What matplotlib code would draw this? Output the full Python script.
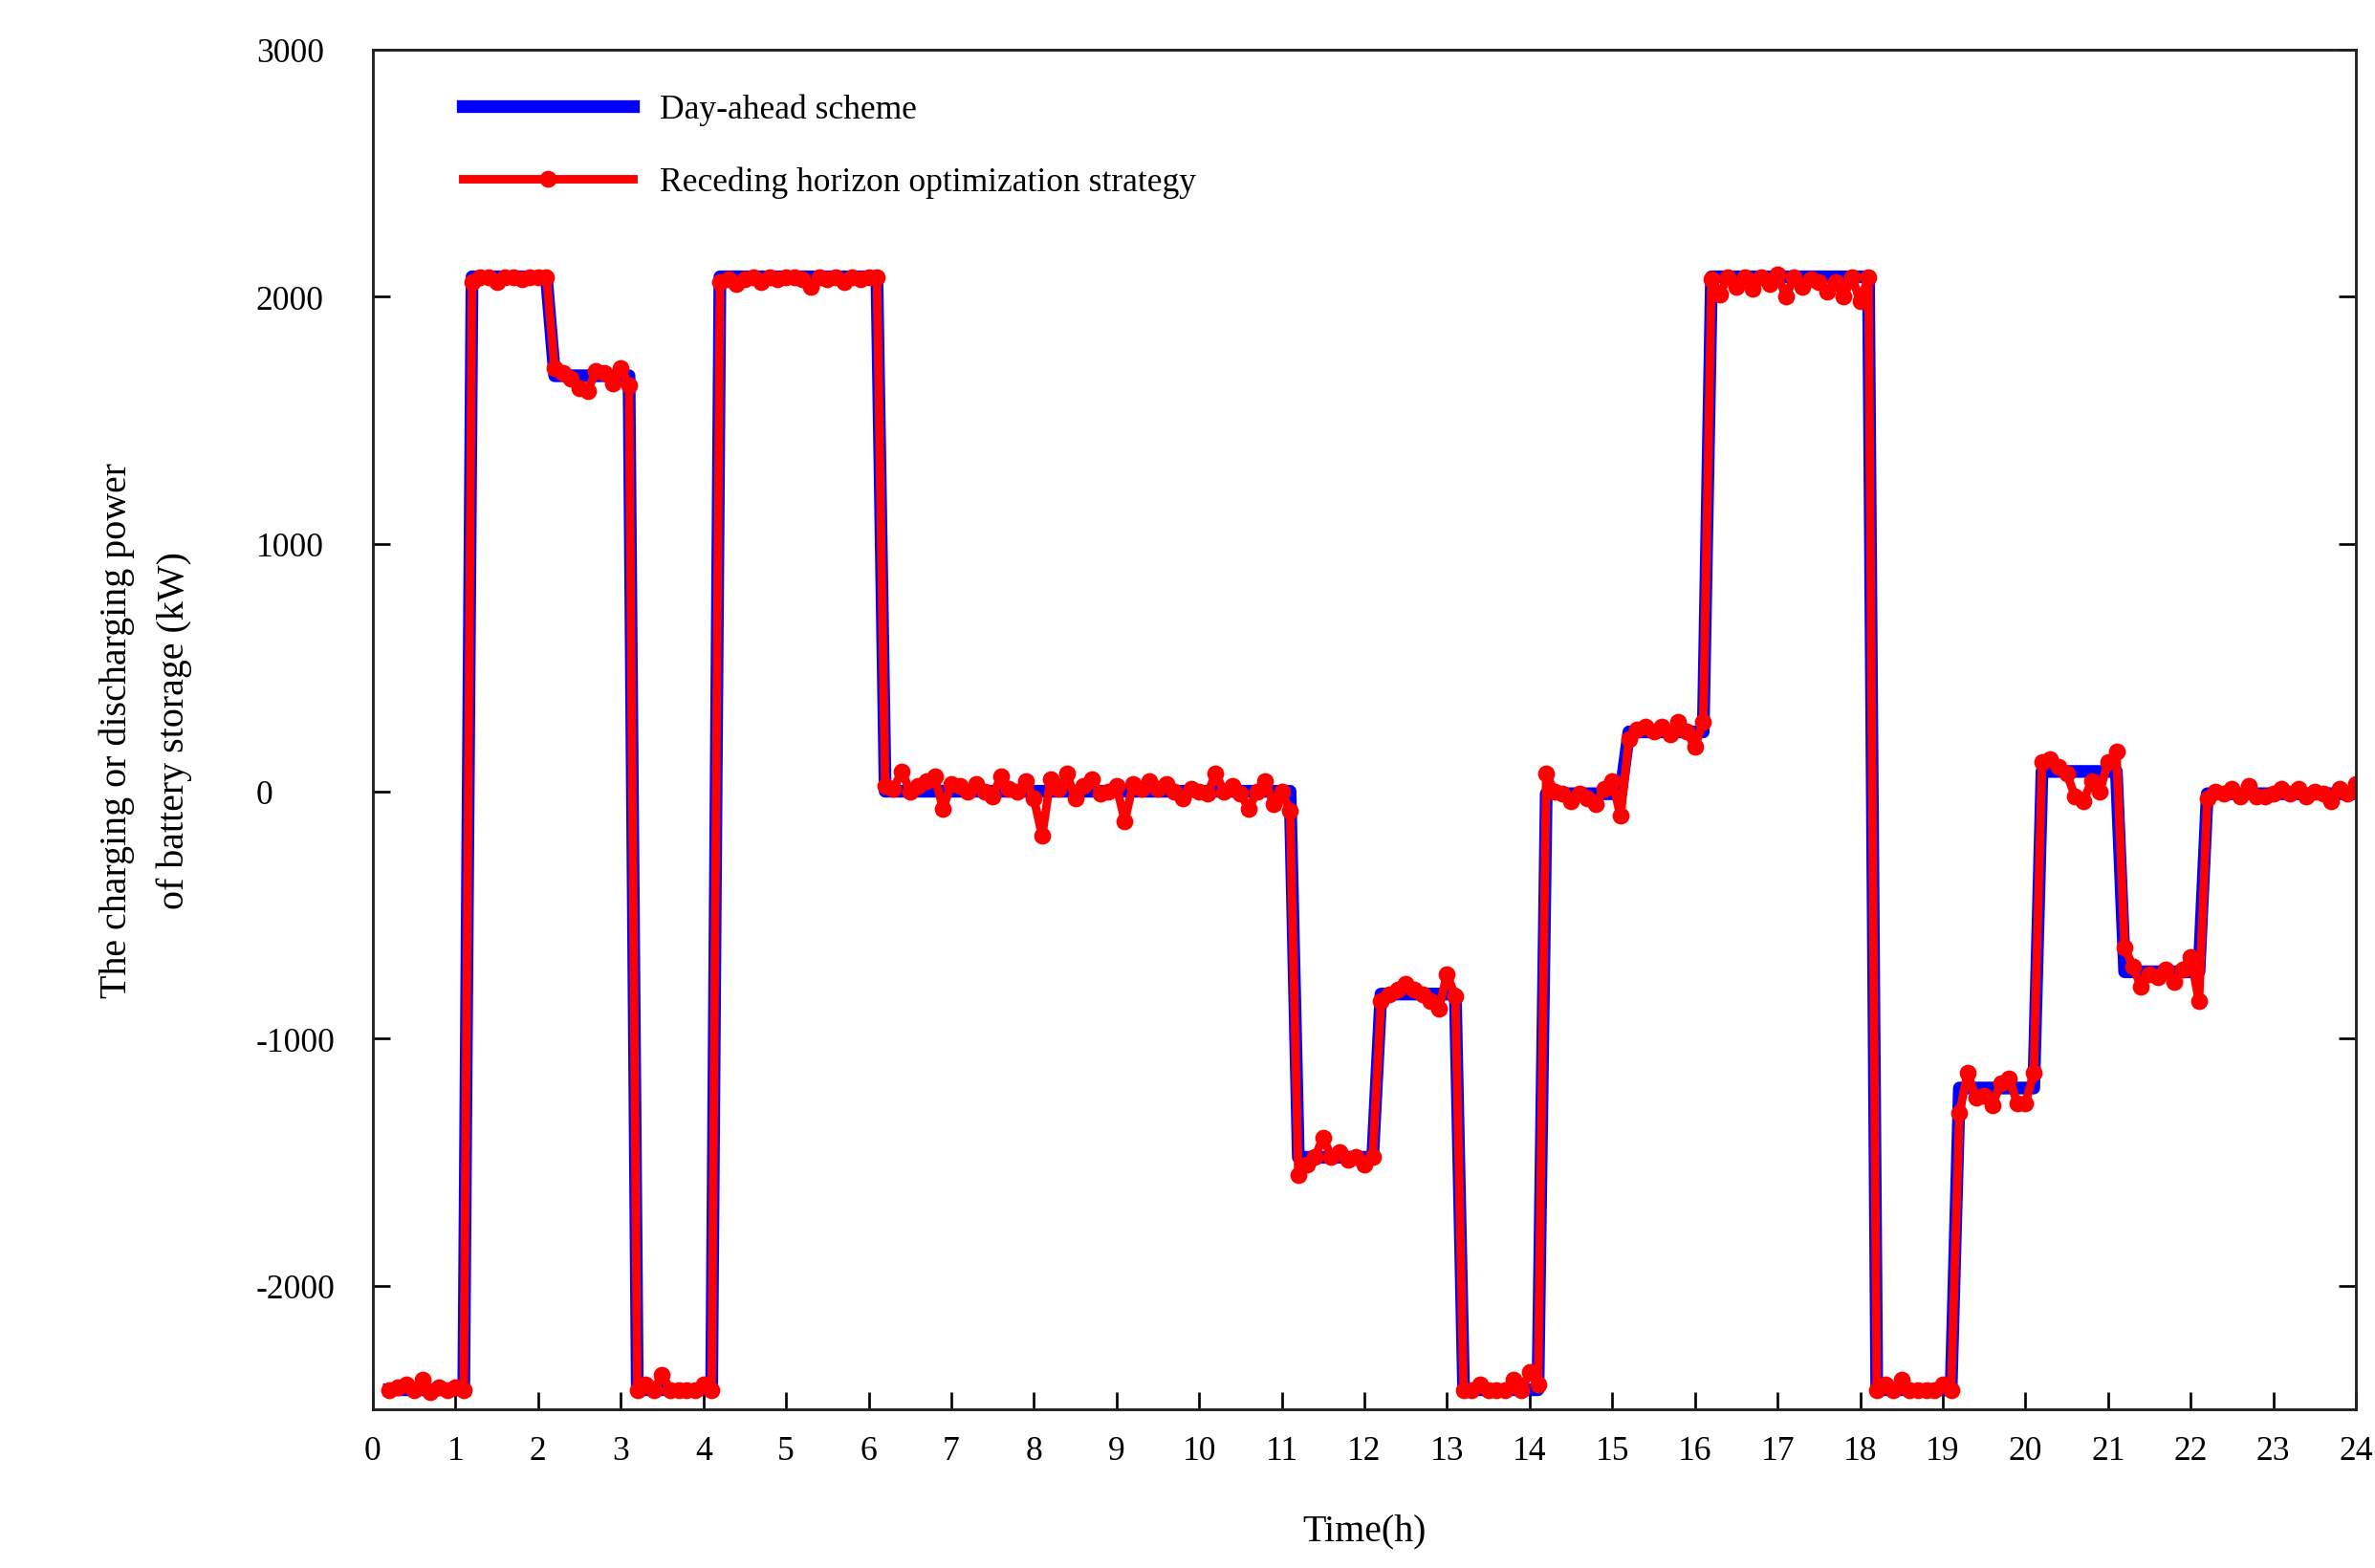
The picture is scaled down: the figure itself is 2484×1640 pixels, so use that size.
import numpy as np
import matplotlib
matplotlib.use("Agg")
import matplotlib.pyplot as plt

plt.rcParams['font.family'] = ['Liberation Serif', 'DejaVu Serif']
plt.rcParams['axes.unicode_minus'] = False

# hourly level of the day-ahead scheme (kW), hour 0..23
levels = [-2420, 2080, 1680, -2420, 2080, 2080, 0, 0, 0, 0,
          0, -1480, -820, -2420, -10, 240, 2080, 2080, -2420, -1200,
          80, -730, -10, -10]

# deviations of the receding horizon result, 10 samples per hour (6 min)
dev = [
    [0, 10, 20, 0, 40, -10, 10, 0, 10, 0],
    [-20, 0, 0, -20, 0, 0, -10, 0, 0, 0],
    [30, 10, -10, -50, -60, 20, 10, -30, 30, -40],
    [0, 20, 0, 60, 0, 0, 0, 0, 20, 0],
    [-20, -10, -30, -10, 0, -20, 0, -10, 0, 0],
    [-10, -40, 0, -10, 0, -20, 0, -10, 0, 0],
    [20, 10, 80, 0, 20, 40, 60, -70, 30, 20],
    [0, 30, 0, -20, 60, 10, 0, 40, -30, -180],
    [50, 10, 70, -30, 20, 50, -10, 0, 20, -120],
    [30, 10, 40, 10, 30, 0, -30, 10, 0, -10],
    [70, 0, 20, -10, -70, 0, 40, -50, 0, -80],
    [-70, -30, 0, 80, 0, 20, -10, 0, -30, 0],
    [-30, 0, 20, 40, 20, 0, -30, -60, 80, -10],
    [0, 0, 20, 0, 0, 0, 40, 0, 70, 20],
    [80, 10, 0, -30, 0, -20, -40, 20, 50, -90],
    [-30, 10, 20, 0, 20, -10, 40, 0, -60, 40],
    [-10, -70, 0, -40, 0, -50, 0, -30, 10, -80],
    [0, -40, -10, -20, -60, -20, -80, 0, -100, 0],
    [0, 20, 0, 40, 0, 0, 0, 0, 20, 0],
    [-100, 60, -40, -30, -70, 20, 40, -60, -60, 60],
    [40, 50, 20, -10, -100, -120, -40, -80, 40, 80],
    [100, 20, -60, -10, -20, 10, -40, 10, 60, -120],
    [-20, 10, 0, 20, -10, 30, -10, -10, 0, 20],
    [0, 20, -10, 10, 0, -30, 20, 0, 40, -40],
]

hours = np.arange(24)
t = np.array([h + 0.1 * k + 0.1 for h in hours for k in range(1, 11)])
day_ahead = np.repeat(levels, 10)
receding = day_ahead + np.array(dev).ravel()
keep = t <= 24.0

fig = plt.figure(figsize=(15.525, 10.256), dpi=160)
ax = fig.add_axes([0.157, 0.101, 0.835, 0.867])
ax.plot(t[keep], day_ahead[keep], color='blue', lw=6, label='Day-ahead scheme')
ax.plot(t[keep], receding[keep], color='red', lw=4, marker='o', ms=7,
        label='Receding horizon optimization strategy')

ax.set_xlim(0, 24)
ax.set_ylim(-2500, 3000)
ax.set_xticks(range(0, 25))
ax.set_yticks([-2000, -1000, 0, 1000, 2000, 3000])
ax.tick_params(direction='in', length=8, width=1.2, labelsize=16, right=True)
ax.tick_params(axis='y', pad=55)
ax.tick_params(axis='x', pad=12)
for lab in ax.get_yticklabels():
    lab.set_horizontalalignment('left')
for s in ax.spines.values():
    s.set_linewidth(1.3)
    s.set_color('#222222')
ax.set_xlabel('Time(h)', fontsize=18, labelpad=22)
ax.set_ylabel('The charging or discharging power\nof battery storage (kW)', fontsize=18,
              labelpad=30, linespacing=1.8)
ax.legend(loc='upper left', frameon=False, fontsize=16, handlelength=5,
          bbox_to_anchor=(0.03, 0.99), labelspacing=1.2)

fig.savefig('out.png', dpi=160)
